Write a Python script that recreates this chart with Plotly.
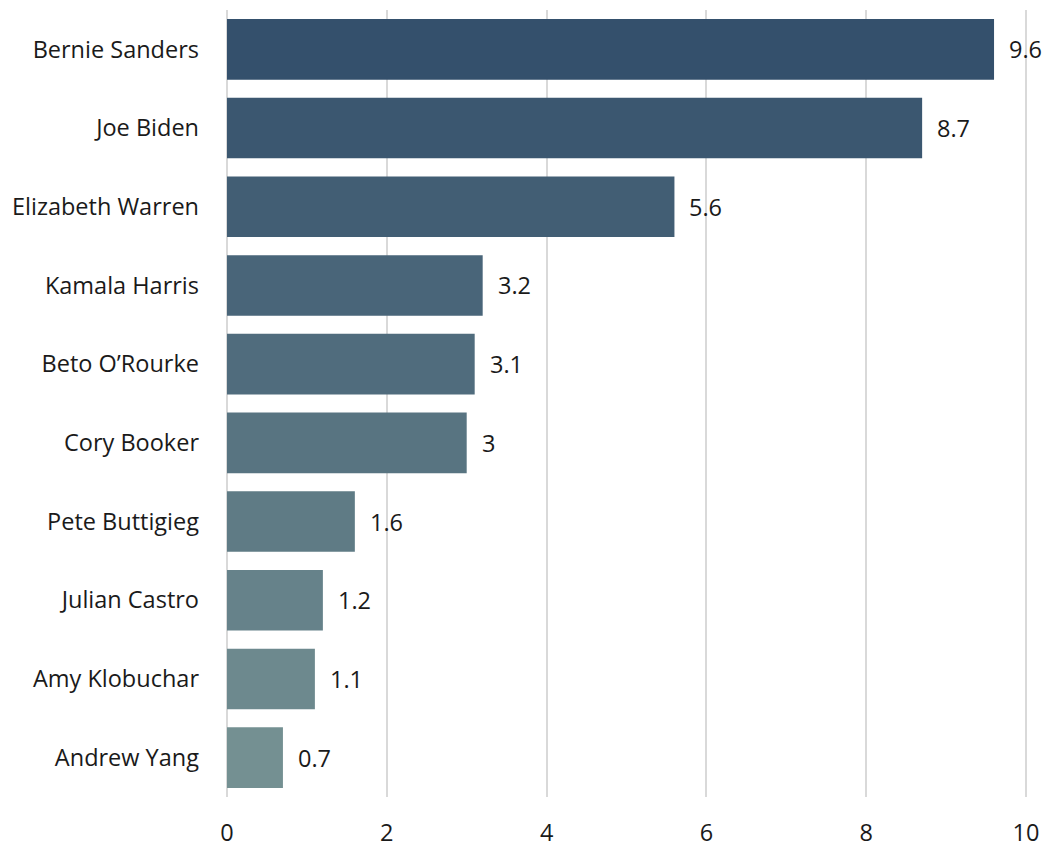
import plotly.graph_objects as go

candidates = ["Bernie Sanders", "Joe Biden", "Elizabeth Warren", "Kamala Harris",
              "Beto O\u2019Rourke", "Cory Booker", "Pete Buttigieg", "Julian Castro",
              "Amy Klobuchar", "Andrew Yang"]
values = [9.6, 8.7, 5.6, 3.2, 3.1, 3.0, 1.6, 1.2, 1.1, 0.7]
labels = ["9.6", "8.7", "5.6", "3.2", "3.1", "3", "1.6", "1.2", "1.1", "0.7"]

c0 = (52, 80, 108)
c1 = (116, 144, 146)
n = len(candidates)
colors = []
for i in range(n):
    t = i / (n - 1)
    colors.append("rgb(%d,%d,%d)" % tuple(round(a + (b - a) * t) for a, b in zip(c0, c1)))

FS = 23.5

fig = go.Figure(go.Bar(
    x=values, y=candidates, orientation="h",
    marker=dict(color=colors, line=dict(width=0)),
    hoverinfo="skip",
))

for v, c, l in zip(values, candidates, labels):
    fig.add_annotation(x=v, y=c, text=l, showarrow=False, xanchor="left",
                       xshift=13, font=dict(size=FS, color="#1a1a1a"))

fig.update_layout(
    width=1044, height=846,
    margin=dict(l=223, r=14, t=10, b=49, autoexpand=False),
    paper_bgcolor="white", plot_bgcolor="white",
    font=dict(family="Open Sans", size=FS, color="#1a1a1a"),
    bargap=0.23,
    showlegend=False,
)
fig.update_xaxes(range=[-0.05, 10.05], tickvals=[0, 2, 4, 6, 8, 10], showgrid=True,
                 gridcolor="#d9d9d9", gridwidth=2, automargin=False,
                 zeroline=False, showline=False, ticks="", ticklabelstandoff=19,
                 tickfont=dict(size=FS))
fig.update_yaxes(autorange="reversed", showgrid=False, zeroline=False, showline=False,
                 automargin=False, ticks="", ticklabelstandoff=23, tickfont=dict(size=FS))

fig.write_html("out.html", config={"displayModeBar": False},
               post_script="document.body.style.margin='0';document.body.style.overflow='hidden';")
